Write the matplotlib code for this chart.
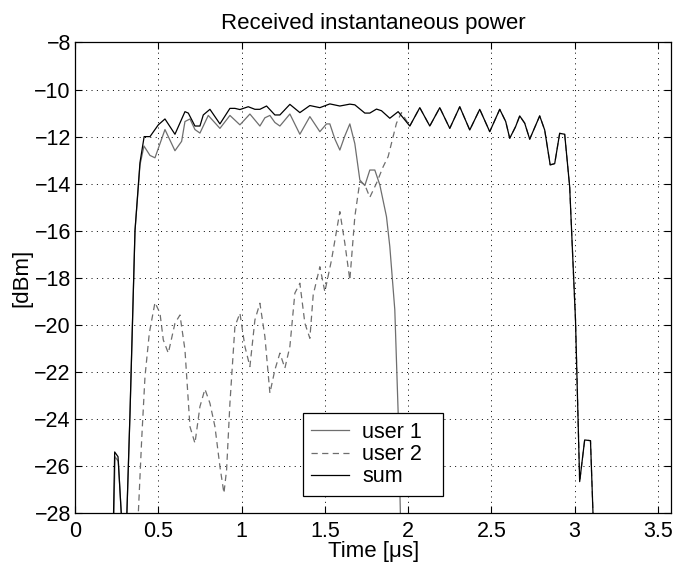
"""
Received instantaneous power of two users and their sum (MATLAB-style figure).
"""
import matplotlib
matplotlib.use("Agg")
import matplotlib.pyplot as plt

# --------------------------------------------------------------------------- #
# data (time in us, power in dBm)
# values below -28 are off the plot and only set where the curve leaves it
# --------------------------------------------------------------------------- #
sum_t = [0.20, 0.238, 0.258, 0.28, 0.295, 0.31, 0.33, 0.36, 0.39, 0.415,
         0.45, 0.50, 0.54, 0.60, 0.66, 0.68, 0.72, 0.75, 0.77, 0.81,
         0.87, 0.93, 0.96, 0.99, 1.04, 1.08, 1.11, 1.15, 1.20, 1.23,
         1.29, 1.35, 1.41, 1.47, 1.53, 1.59, 1.65, 1.68, 1.74, 1.77,
         1.81, 1.84, 1.89, 1.94, 2.01, 2.07, 2.13, 2.19, 2.25, 2.31,
         2.37, 2.43, 2.49, 2.55, 2.586, 2.61, 2.645, 2.67, 2.70, 2.73,
         2.79, 2.82, 2.853, 2.88, 2.91, 2.94, 2.97, 3.005, 3.03, 3.06,
         3.095, 3.11, 3.13]
sum_p = [-40, -25.4, -25.6, -28.3, -40, -28.3, -23.75, -16.0, -13.1, -12.0,
         -12.0, -11.5, -11.25, -11.9, -10.94, -11.0, -11.55, -11.55, -11.08, -10.84,
         -11.46, -10.8, -10.8, -10.85, -10.73, -10.84, -10.84, -10.7, -11.08, -11.08,
         -10.63, -10.98, -10.68, -10.77, -10.61, -10.7, -10.62, -10.65, -11.0, -11.0,
         -10.83, -10.9, -11.22, -10.94, -11.55, -10.77, -11.55, -10.77, -11.65, -10.73,
         -11.72, -10.84, -11.79, -10.84, -11.36, -12.07, -11.58, -11.12, -11.43, -12.11,
         -11.12, -11.72, -13.2, -13.15, -11.86, -11.9, -14.13, -19.8, -26.66, -24.89,
         -24.92, -28.0, -40]

user1_t = [0.20, 0.24, 0.26, 0.28, 0.295, 0.31, 0.33, 0.36, 0.39, 0.414,
           0.45, 0.48, 0.54, 0.60, 0.64, 0.66, 0.69, 0.72, 0.75, 0.80,
           0.87, 0.93, 0.99, 1.05, 1.11, 1.14, 1.17, 1.20, 1.23, 1.29,
           1.35, 1.41, 1.47, 1.51, 1.53, 1.56, 1.59, 1.62, 1.65, 1.68,
           1.71, 1.74, 1.77, 1.80, 1.83, 1.87, 1.89, 1.92, 1.94, 1.955,
           1.97]
user1_p = [-40, -25.6, -25.8, -28.3, -40, -28.3, -23.8, -16.0, -13.2, -12.4,
           -12.8, -12.9, -11.7, -12.6, -12.2, -11.36, -11.25, -11.7, -11.85, -11.1,
           -11.65, -11.1, -11.5, -11.04, -11.55, -11.2, -11.1, -11.4, -11.55, -11.04,
           -11.9, -11.15, -11.79, -11.46, -11.46, -12.1, -12.57, -11.97, -11.46, -12.3,
           -13.84, -14.08, -13.42, -13.42, -14.05, -15.4, -16.67, -19.36, -23.7, -28.5,
           -40]

user2_t = [0.37, 0.38, 0.40, 0.42, 0.446, 0.48, 0.51, 0.53, 0.56, 0.60,
           0.63, 0.66, 0.69, 0.72, 0.75, 0.78, 0.81, 0.84, 0.87, 0.894,
           0.91, 0.93, 0.96, 0.99, 1.02, 1.05, 1.08, 1.11, 1.14, 1.17,
           1.20, 1.23, 1.26, 1.29, 1.32, 1.35, 1.38, 1.41, 1.43, 1.47,
           1.50, 1.54, 1.59, 1.62, 1.65, 1.68, 1.71, 1.74, 1.77, 1.81,
           1.85, 1.88, 1.93, 1.96, 2.01, 2.07, 2.13, 2.19, 2.25, 2.31,
           2.37, 2.43, 2.49, 2.55, 2.586, 2.61, 2.645, 2.67, 2.70, 2.73,
           2.79, 2.82, 2.853, 2.88, 2.91, 2.94, 2.97, 3.005, 3.03, 3.06,
           3.095, 3.11, 3.13]
user2_p = [-40, -28.0, -24.89, -22.2, -20.35, -19.05, -19.5, -20.64, -21.2, -19.93,
           -19.58, -21.06, -24.32, -25.03, -23.47, -22.73, -23.33, -24.32, -26.02, -27.15,
           -26.16, -23.33, -20.07, -19.5, -20.92, -21.77, -19.79, -19.08, -20.5, -22.9,
           -21.91, -21.2, -21.84, -20.92, -18.65, -18.23, -19.93, -20.57, -18.73, -17.53,
           -18.59, -17.24, -15.19, -16.53, -18.09, -15.4, -13.91, -14.05, -14.58, -13.98,
           -13.28, -12.85, -11.43, -10.98, -11.55, -10.77, -11.55, -10.77, -11.65, -10.73,
           -11.72, -10.84, -11.79, -10.84, -11.36, -12.07, -11.58, -11.12, -11.43, -12.11,
           -11.12, -11.72, -13.2, -13.15, -11.86, -11.9, -14.13, -19.8, -26.66, -24.89,
           -24.92, -28.0, -40]

x_ticks = [0, 0.5, 1, 1.5, 2, 2.5, 3, 3.5]
x_ticklabels = ["0", "0.5", "1", "1.5", "2", "2.5", "3", "3.5"]
y_ticks = [-28, -26, -24, -22, -20, -18, -16, -14, -12, -10, -8]

plt.rcParams["font.family"] = ["Liberation Sans", "DejaVu Sans"]
plt.rcParams["font.size"] = 15

fig = plt.figure(figsize=(6.76, 5.74), dpi=100)
ax = fig.add_axes([0.111, 0.106, 0.882, 0.820])

ax.plot(user2_t, user2_p, color="#6e6e6e", linestyle=(0, (5, 3.5)), linewidth=0.9,
        label="user 2")
ax.plot(user1_t, user1_p, color="#6e6e6e", linewidth=0.9, label="user 1")
ax.plot(sum_t, sum_p, color="black", linewidth=0.9, label="sum")

ax.set_xlim(0, 3.58)
ax.set_ylim(-28, -8)
ax.set_xticks(x_ticks)
ax.set_xticklabels(x_ticklabels)
ax.set_yticks(y_ticks)

ax.grid(True, color="black", linestyle=(0, (1, 4.5)), linewidth=0.7)
ax.tick_params(direction="in", top=True, right=True, length=5, width=0.8,
               labelsize=15.5)
ax.tick_params(axis="x", pad=6)
ax.tick_params(axis="y", pad=3)
for s in ax.spines.values():
    s.set_linewidth(0.9)

ax.set_title("Received instantaneous power", fontsize=16, pad=10)
ax.set_xlabel("Time [μs]", fontsize=16, labelpad=-1)
ax.set_ylabel("[dBm]", fontsize=16, labelpad=1)

# legend order as in the reference
h, l = ax.get_legend_handles_labels()
order = [1, 0, 2]
leg = ax.legend([h[i] for i in order], [l[i] for i in order],
                loc="lower left", bbox_to_anchor=(0.382, 0.037, 0.235, 0.176),
                mode="expand", fancybox=False, edgecolor="black",
                framealpha=1, borderaxespad=0, handlelength=1.75,
                handletextpad=0.6, labelspacing=0.05, borderpad=0.4,
                fontsize=15.5)
leg.get_frame().set_linewidth(0.9)

fig.savefig("out.png", dpi=100)
